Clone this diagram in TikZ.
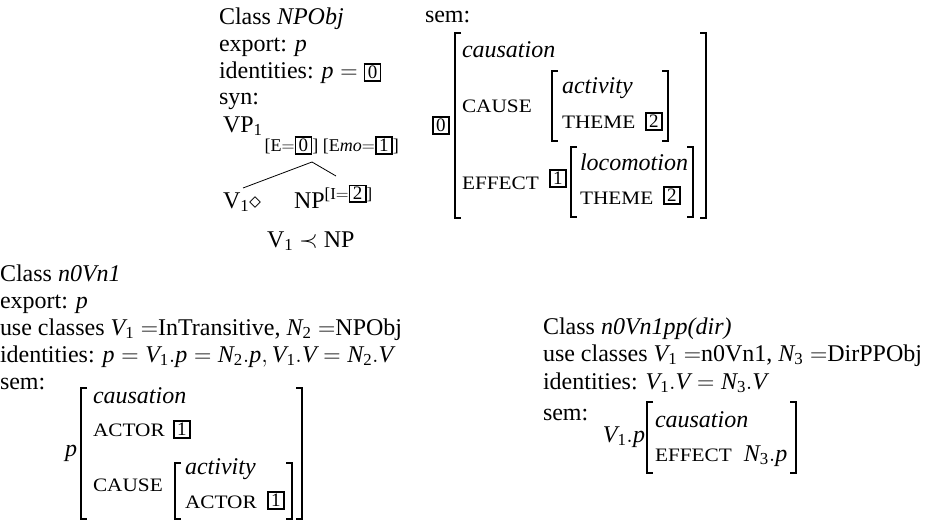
\documentclass[tikz,border=0pt]{standalone}
\usepackage{fix-cm}
\usepackage{amsmath}
\usepackage{fontspec}
\setmainfont{Liberation Serif}
\newfontfamily\scf{Liberation Serif}[FakeStretch=1.12]
\usetikzlibrary{calc}
% boxed coindexation tag
\newcommand\bx[1]{{\setlength\fboxrule{1.7pt}\setlength\fboxsep{0pt}\fbox{\makebox[14.5pt]{\rule[-2pt]{0pt}{15pt}\fontsize{19}{19}\selectfont #1}}}}
% attribute names in small capitals
\newcommand\feat[1]{{\scf\fontsize{19}{20}\selectfont #1}}
% italic letters and upright index digits inside formulas
\newcommand\mi[1]{\text{\itshape #1}}
\newcommand\sd[1]{_{\text{#1}}}
\begin{document}
\begin{tikzpicture}[x=1pt,y=-1pt,
  txt/.style={anchor=base west,inner sep=0pt,outer sep=0pt,font=\fontsize{24}{27}\selectfont},
  small/.style={txt,font=\fontsize{18}{18}\selectfont},
  brk/.style={line width=1.3pt},
  tree/.style={line width=0.8pt}]
\useasboundingbox (0,0) rectangle (930,522);

% ---------- class NPObj ----------
\node[txt] (c1) at (219,24) {Class \textit{NPObj}};
\node[txt] (e1) at (219,51) {export: \textit{p}};
\node[txt] (i1) at (219,78) {identities: $\mi{p} =$ \bx{0}};
\node[txt] (s1) at (219,104) {syn:};
\node[txt] (vp) at (223,132) {VP\textsubscript{1}};
\node[small] (vpf) at ($(vp.base east)+(2,19)$) {[E$=$\bx{0}] [E\textit{mo}$=$\bx{1}]};
\coordinate (br) at (312,162);
\coordinate (lt) at (243,188);
\coordinate (rt) at (336,176);
\draw[tree] (br) -- (lt);
\draw[tree] (br) -- (rt);
\node[txt] (v1) at (223,208) {V\textsubscript{1}$\diamond$};
\node[txt] (np) at (294,208) {NP\textsuperscript{[I$=$\bx{2}]}};
\node[txt] (prec) at (267,247) {V\textsubscript{1} $\prec$ NP};

\node[txt] (sem1) at (425,23) {sem:};
\node[txt] (t0) at (432,131) {\bx{0}};
\draw[brk] (461,33) -- (455,33) -- (455,218) -- (461,218);
\draw[brk] (700,33) -- (706,33) -- (706,218) -- (700,218);
\node[txt] (caus1) at (462,57) {\textit{causation}};
\node[txt] (cause1) at (462,112) {\feat{CAUSE}};
\draw[brk] (558,71) -- (552,71) -- (552,141) -- (558,141);
\draw[brk] (662,71) -- (668,71) -- (668,141) -- (662,141);
\node[txt] (act1) at (562,93) {\textit{activity}};
\node[txt] (th1) at (562,128) {\feat{THEME}};
\node[txt] (t2a) at (645,127) {\bx{2}};
\node[txt] (eff1) at (462,189) {\feat{EFFECT}};
\node[txt] (t1a) at (549,184) {\bx{1}};
\draw[brk] (577,147) -- (571,147) -- (571,217) -- (577,217);
\draw[brk] (687,147) -- (693,147) -- (693,217) -- (687,217);
\node[txt] (loc1) at (580,170) {\textit{locomotion}};
\node[txt] (th2) at (580,204) {\feat{THEME}};
\node[txt] (t2b) at (663,201) {\bx{2}};

% ---------- class n0Vn1 ----------
\node[txt] (c2) at (0,281) {Class \textit{n0Vn1}};
\node[txt] (e2) at (0,308) {export: \textit{p}};
\node[txt] (u2) at (0,335) {use classes $\mi{V}\sd1 =$InTransitive, $\mi{N}\sd2 =$NPObj};
\node[txt] (i2) at (0,362) {identities: $\mi{p} = \mi{V}\sd1.\mi{p} = \mi{N}\sd2.\mi{p}, \mi{V}\sd1.\mi{V} = \mi{N}\sd2.\mi{V}$};
\node[txt] (s2) at (0,389) {sem:};
\node[txt] (p2) at (65,456) {\textit{p}};
\draw[brk] (87,388) -- (81,388) -- (81,519) -- (87,519);
\draw[brk] (296,388) -- (302,388) -- (302,519) -- (296,519);
\node[txt] (caus2) at (93,403) {\textit{causation}};
\node[txt] (actor2) at (93,436) {\feat{ACTOR}};
\node[txt] (t1b) at (173,435) {\bx{1}};
\node[txt] (cause2) at (93,491) {\feat{CAUSE}};
\draw[brk] (181,463) -- (175,463) -- (175,519) -- (181,519);
\draw[brk] (286,463) -- (292,463) -- (292,519) -- (286,519);
\node[txt] (act2) at (185,474) {\textit{activity}};
\node[txt] (actor3) at (185,508) {\feat{ACTOR}};
\node[txt] (t1c) at (267,506) {\bx{1}};

% ---------- class n0Vn1pp(dir) ----------
\node[txt] (c3) at (543,334) {Class \textit{n0Vn1pp(dir)}};
\node[txt] (u3) at (543,361) {use classes $\mi{V}\sd1 =$n0Vn1, $\mi{N}\sd3 =$DirPPObj};
\node[txt] (i3) at (543,389) {identities: $\mi{V}\sd1.\mi{V} = \mi{N}\sd3.\mi{V}$};
\node[txt] (s3) at (543,420) {sem:};
\node[txt,anchor=base east] (p3) at (645,442) {$\mi{V}\sd1.\mi{p}$};
\draw[brk] (653,402) -- (647,402) -- (647,473) -- (653,473);
\draw[brk] (790,402) -- (796,402) -- (796,473) -- (790,473);
\node[txt] (caus3) at (655,427) {\textit{causation}};
\node[txt] (eff3) at (655,461) {\feat{EFFECT}\ \ $\mi{N}\sd3.\mi{p}$};
\end{tikzpicture}
\end{document}
